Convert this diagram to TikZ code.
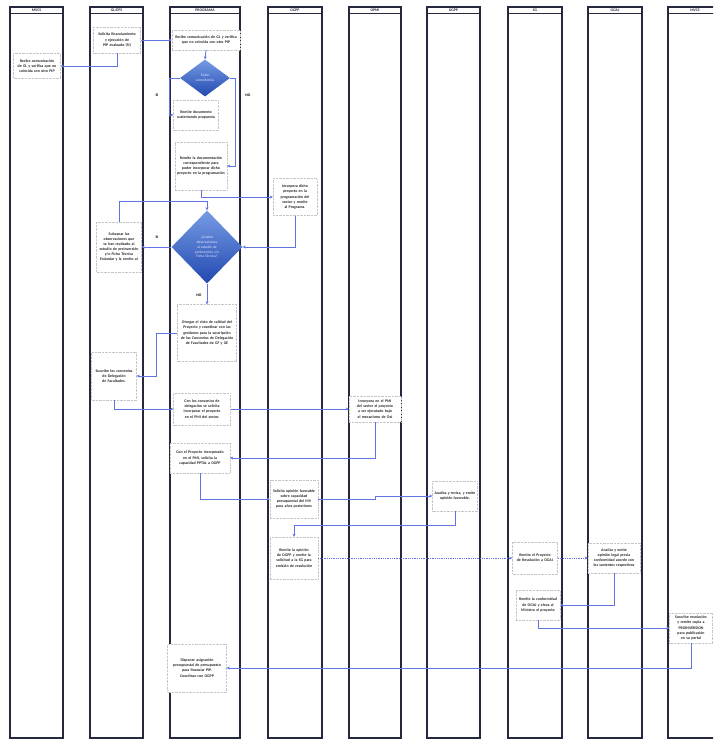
\documentclass[tikz,border=0pt]{standalone}
\usepackage{fontspec}
\setmainfont{Carlito}
\usepackage{tikz}
\usetikzlibrary{positioning,arrows.meta,calc,shapes.geometric}
\definecolor{lanecol}{RGB}{38,40,62}
\definecolor{flowblue}{RGB}{96,116,228}
\definecolor{decitop}{RGB}{118,156,228}
\definecolor{decibot}{RGB}{34,72,176}
\newcommand{\nohyph}{\hyphenpenalty=10000\exhyphenpenalty=10000}
\tikzset{
    lane/.style={draw=lanecol,line width=1.2pt},
    lanehead/.style={font=\fontsize{3.8}{4}\selectfont\bfseries,text=lanecol},
    act/.style={draw=gray!45,densely dotted,fill=white,align=center,inner xsep=2pt,inner ysep=2pt,
        font=\fontsize{3.9}{5.1}\selectfont\bfseries\nohyph,text=black!85},
    decide/.style={diamond,draw=none,top color=decitop,bottom color=decibot,inner sep=0pt,align=center,
        font=\fontsize{3.6}{4.8}\selectfont\nohyph,text=blue!10},
    flow/.style={draw=flowblue,line width=0.8pt,-{Stealth[length=3pt,width=3pt]}},
    tag/.style={font=\fontsize{3.8}{4}\selectfont\bfseries},
}

\begin{document}
\begin{tikzpicture}[x=1pt,y=-1pt]
    \useasboundingbox (0,0) rectangle (713,741);
    \fill[white] (0,0) rectangle (713,741);
    \clip (0,0) rectangle (713,741);

    % swimlanes
    \foreach \xl/\xr/\name in {10/63/MVCS,90/143/GL\slash EPS,170/240/PROGRAMA,268/322/OGPP,
        349/401/OPMI,427/480/DGPP,508/562/SG,588/642/OGAJ,668/722/MVCS}{
        \draw[lane] (\xl,7) rectangle (\xr,738);
        \draw[lanecol,line width=0.6pt] (\xl,13) -- (\xr,13);
        \node[lanehead] at ({(\xl+\xr)/2},10) {\name};
    }

    % activities
    \node[act,text width=43pt,minimum height=25pt] (recmv) at (37,66) {Recibe comunicación de GL y verifica que no coincida con otro PIP};
    \node[act,text width=43pt,minimum height=26pt] (solgl) at (117,40) {Solicita financiamiento y ejecución de PIP evaluado (SI)};
    \node[act,text width=64pt,minimum height=20pt] (recpr) at (206,40) {Recibe comunicación de GL y verifica que no coincida con otro PIP};
    \node[decide,minimum width=50pt,minimum height=37pt] (coin) at (205,78) {Existe\\coincidencia};
    \node[act,text width=41pt,minimum height=30pt] (remdoc) at (196,115) {Remite documento sustentando propuesta};
    \node[act,text width=48pt,minimum height=48pt] (remdocs) at (201,166) {Remite la documentación correspondiente para poder incorporar dicho proyecto en la programación};
    \node[act,text width=40pt,minimum height=37pt] (incog) at (295,197) {Incorpora dicho proyecto en la programación del sector y remite al Programa.};
    \node[decide,minimum width=71pt,minimum height=73pt,text width=30pt] (obs) at (207,247) {¿Existen observaciones al estudio de preinversión y/o Ficha Técnica?};
    \node[act,text width=41pt,minimum height=50pt] (subs) at (119,247) {Subsanar las observaciones que se han realizado al estudio de preinversión y/o Ficha Técnica Estándar y la remite al};
    \node[act,text width=55pt,minimum height=57pt] (visto) at (207,333) {Otorgar el visto de calidad del Proyecto y coordinar con las gestiones para la suscripción de los Convenios de Delegación de Facultades de GF y GE};
    \node[act,text width=41pt,minimum height=48pt] (conv) at (114,376) {Suscribe los convenios de Delegación de Facultades.};
    \node[act,text width=53pt,minimum height=32pt] (pmisol) at (202,409) {Con los convenios de delegación se solicita incorporar el proyecto en el PMI del sector.};
    \node[act,text width=48pt,minimum height=26pt] (pmi) at (375,409) {Incorpora en el PMI del sector el proyecto a ser ejecutado bajo el mecanismo de OxI};
    \node[act,text width=56pt,minimum height=30pt] (cap) at (200,458) {Con el Proyecto Incorporado en el PMI, solicita la capacidad PPTAL a OGPP};
    \node[act,text width=44pt,minimum height=38pt] (opf) at (294,499) {Solicita opinión favorable sobre capacidad presupuestal del MV para años posteriores};
    \node[act,text width=41pt,minimum height=30pt] (ana) at (455,496) {Analiza y revisa, y emite opinión favorable.};
    \node[act,text width=44pt,minimum height=42pt] (remop) at (294,558) {Remite la opinión de DGPP y remite la solicitud a la SG para emisión de resolución};
    \node[act,text width=41pt,minimum height=32pt] (proy) at (535,558) {Remite el Proyecto de Resolución a OGAJ};
    \node[act,text width=48pt,minimum height=30pt] (legal) at (614,558) {Analiza y emite opinión legal previa conformidad acorde con los sustentos respectivos};
    \node[act,text width=40pt,minimum height=30pt] (conf) at (538,605) {Remite la conformidad de OGAJ y eleva al Ministro el proyecto};
    \node[act,text width=39pt,minimum height=30pt] (susc) at (691,628) {Suscribe resolución y remite copia a PROINVERSION para publicación en su portal};
    \node[act,text width=55pt,minimum height=48pt] (asig) at (197,668) {Disponer asignación presupuestal de presupuesto para financiar PIP. Coordinar con OGPP};

    % answers
    \node[tag] at (157,95) {SI};
    \node[tag] at (248,95) {NO};
    \node[tag] at (157,237) {SI};
    \node[tag] at (199,295) {NO};

    % flows
    \draw[flow] (solgl.south) |- (recmv.east);
    \draw[flow] (solgl.east) -- (recpr.west);
    \draw[flow] (recpr.south) -- (coin.north);
    \draw[flow] (coin.west) -- ++(-10,0) |- (remdoc.west);
    \draw[flow] (coin.east) -- ++(5,0) |- (remdocs.east);
    \draw[flow] (remdocs.south) |- (incog.west);
    \draw[flow] (incog.south) |- (obs.east);
    \draw[flow] (obs.west) -- (subs.east);
    \draw[flow] (subs.north) -- ++(0,-20) -| (obs.north);
    \draw[flow] (obs.south) -- (visto.north);
    \draw[flow] (visto.west) -- ++(-21,0) |- (conv.east);
    \draw[flow] (conv.south) |- (pmisol.west);
    \draw[flow] (pmisol.east) -- (pmi.west);
    \draw[flow] (pmi.south) |- (cap.east);
    \draw[flow] (cap.south) |- (opf.west);
    \draw[flow] (opf.east) -- ++(57,0) |- (ana.west);
    \draw[flow] (ana.south) -- ++(0,14) -| (remop.north);
    \draw[flow,densely dotted] (remop.east) -- (proy.west);
    \draw[flow,densely dotted] (proy.east) -- (legal.west);
    \draw[flow] (legal.south) |- (conf.east);
    \draw[flow] (conf.south) |- (susc.west);
    \draw[flow] (susc.south) |- (asig.east);
\end{tikzpicture}
\end{document}
